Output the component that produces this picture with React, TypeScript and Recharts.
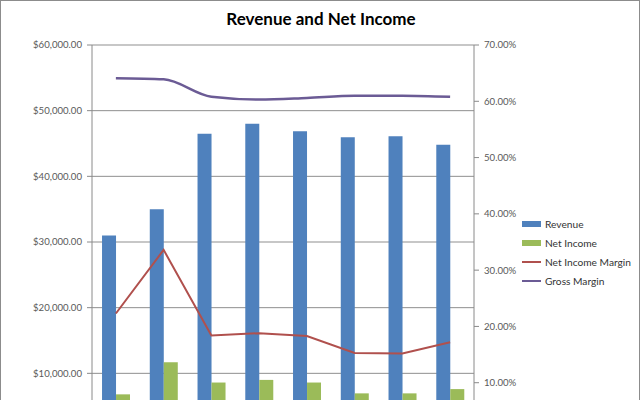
import React from "react";
import { Bar, CartesianGrid, ComposedChart, Line, XAxis, YAxis } from "recharts";

const periods = ["1", "2", "3", "4", "5", "6", "7", "8"];
const revenue = [31000, 35000, 46500, 48000, 46850, 45950, 46100, 44800];
const netIncome = [6800, 11700, 8600, 9000, 8600, 6950, 6950, 7600];
const netIncomeMargin = [22.3, 33.6, 18.4, 18.8, 18.3, 15.3, 15.2, 17.2];
const grossMargin = [64.1, 63.9, 60.8, 60.3, 60.6, 61.0, 61.0, 60.8];
// the $0 / 0% row sits below the visible crop, so only these ticks are shown
const dollarTicks = [10000, 20000, 30000, 40000, 50000, 60000];
const percentTicks = [10, 20, 30, 40, 50, 60, 70];

const data = periods.map((period, i) => ({
  period,
  revenue: revenue[i],
  netIncome: netIncome[i],
  netIncomeMargin: netIncomeMargin[i],
  grossMargin: grossMargin[i],
}));

const legendItems = [
  { label: "Revenue", color: "#4F81BD", kind: "bar" },
  { label: "Net Income", color: "#9BBB59", kind: "bar" },
  { label: "Net Income Margin", color: "#B0504D", kind: "line" },
  { label: "Gross Margin", color: "#6B5B95", kind: "line" },
];

const font = "Lato, 'Open Sans', sans-serif";
const tickStyle = { fill: "#595959", fontSize: 9.6, fontFamily: font };

export default function App() {
  return (
    <div
      style={{
        position: "fixed",
        top: 0,
        left: 0,
        width: 640,
        height: 400,
        overflow: "hidden",
        background: "#fff",
        boxSizing: "border-box",
        border: "1px solid #8c8c8c",
        borderBottom: "none",
      }}
    >
      <div
        style={{
          position: "absolute",
          top: 7,
          left: 0,
          width: 640,
          textAlign: "center",
          fontFamily: font,
          fontWeight: 700,
          fontSize: 17,
          color: "#000",
        }}
      >
        Revenue and Net Income
      </div>
      <div style={{ position: "absolute", top: -1, left: -1 }}>
        <ComposedChart
          width={640}
          height={480}
          data={data}
          margin={{ top: 45, right: 106, bottom: 11, left: 0 }}
          barCategoryGap="21%"
          barGap={0}
        >
          <CartesianGrid yAxisId="left" vertical={false} stroke="#8f8f8f" />
          <XAxis dataKey="period" height={30} tickLine={false} tick={false} axisLine={{ stroke: "#8a8a8a" }} />
          <YAxis
            yAxisId="left"
            width={92}
            domain={[0, 60000]}
            ticks={dollarTicks}
            tickSize={5}
            tickMargin={5}
            axisLine={{ stroke: "#8a8a8a" }}
            tickLine={{ stroke: "#8a8a8a" }}
            tick={tickStyle}
            tickFormatter={(v: number) =>
              "$" + v.toLocaleString("en-US", { minimumFractionDigits: 2, maximumFractionDigits: 2 })
            }
          />
          <YAxis
            yAxisId="right"
            orientation="right"
            width={60}
            domain={[0, 70]}
            ticks={percentTicks}
            tickSize={5}
            tickMargin={5}
            axisLine={{ stroke: "#8a8a8a" }}
            tickLine={{ stroke: "#8a8a8a" }}
            tick={tickStyle}
            tickFormatter={(v: number) => `${v.toFixed(2)}%`}
          />
          <Bar yAxisId="left" dataKey="revenue" fill="#4F81BD" isAnimationActive={false} />
          <Bar yAxisId="left" dataKey="netIncome" fill="#9BBB59" isAnimationActive={false} />
          <Line
            yAxisId="right"
            type="linear"
            dataKey="netIncomeMargin"
            stroke="#B0504D"
            strokeWidth={2}
            dot={false}
            isAnimationActive={false}
          />
          <Line
            yAxisId="right"
            type="monotone"
            dataKey="grossMargin"
            stroke="#6B5B95"
            strokeWidth={2.5}
            dot={false}
            isAnimationActive={false}
          />
        </ComposedChart>
      </div>
      <div style={{ position: "absolute", left: 521, top: 213, fontFamily: font, fontSize: 10.2, color: "#333" }}>
        {legendItems.map((item) => (
          <div key={item.label} style={{ display: "flex", alignItems: "center", height: 19 }}>
            <span
              style={{
                display: "inline-block",
                width: 19,
                height: item.kind === "bar" ? 6 : 2,
                background: item.color,
                marginRight: 4,
              }}
            />
            {item.label}
          </div>
        ))}
      </div>
    </div>
  );
}
